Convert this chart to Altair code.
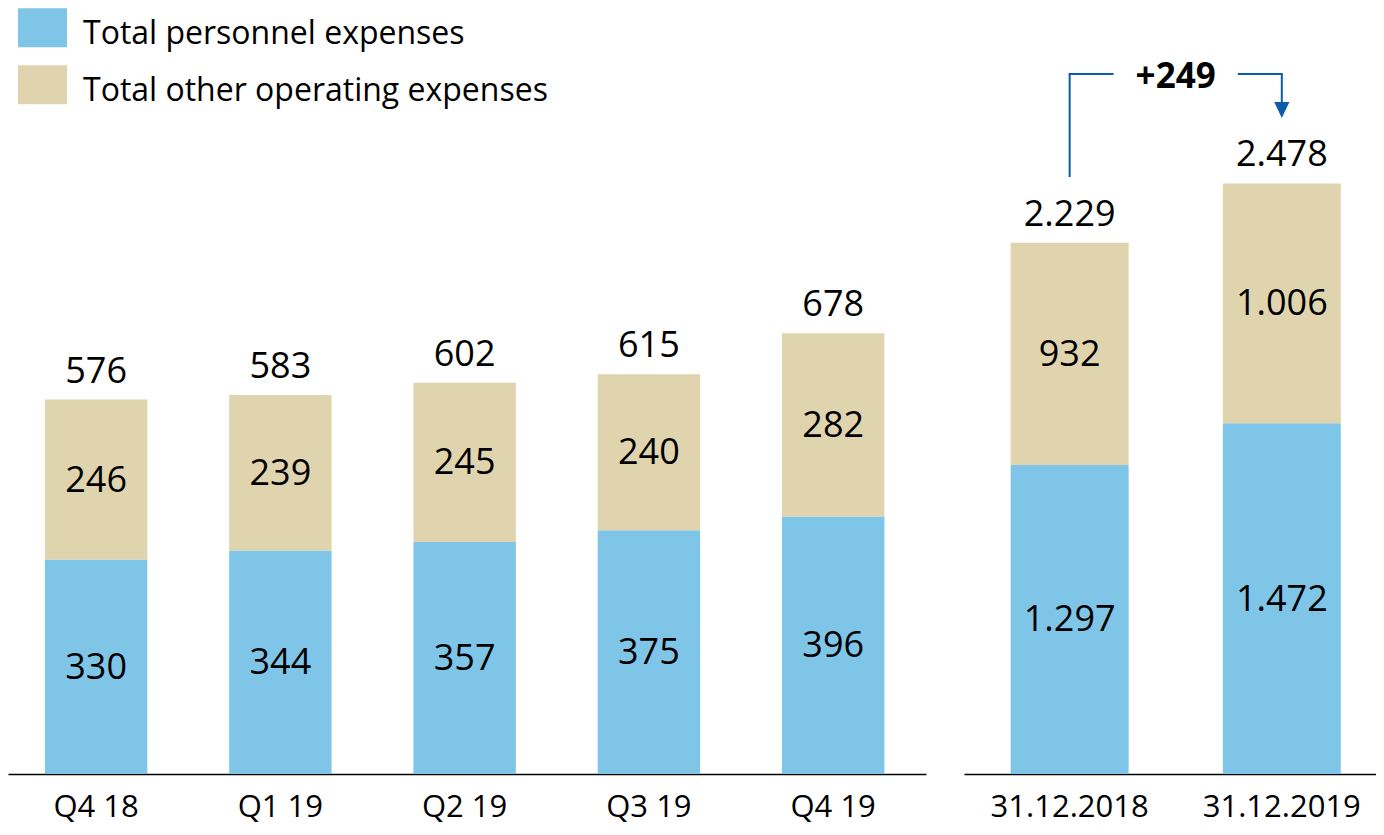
import altair as alt
import pandas as pd

# ---- data ----
quarters = ["Q4 18", "Q1 19", "Q2 19", "Q3 19", "Q4 19"]
q_personnel = [330, 344, 357, 375, 396]
q_other = [246, 239, 245, 240, 282]
q_total = [576, 583, 602, 615, 678]

years = ["31.12.2018", "31.12.2019"]
y_personnel = [1297, 1472]
y_other = [932, 1006]
y_total = [2229, 2478]

series = ["Total personnel expenses", "Total other operating expenses"]
colors = ["#7FC5E8", "#E0D4AF"]

delta_label = "+249"
# bracket levels in data units of the annual panel
bracket_low = 2505
bracket_top = 2937
arrow_end = 2820
arrow_head = 2786

FONT = "Open Sans"
H = 766


def fmt(v):
    return f"{v:,}".replace(",", ".")


def build(cats, pers, oth, tot):
    rows = []
    for c, p, o, t in zip(cats, pers, oth, tot):
        rows.append({"cat": c, "series": series[0], "y0": 0, "y1": p,
                     "mid": p / 2, "lab": fmt(p)})
        rows.append({"cat": c, "series": series[1], "y0": p, "y1": p + o,
                     "mid": p + o / 2, "lab": fmt(o)})
    seg = pd.DataFrame(rows)
    totals = pd.DataFrame({"cat": cats, "tot": tot, "lab": [fmt(t) for t in tot]})
    return seg, totals


color_scale = alt.Scale(domain=series, range=colors)


def panel(cats, pers, oth, tot, ymax, pad_outer, align, legend):
    seg, totals = build(cats, pers, oth, tot)
    xs = alt.Scale(domain=cats, paddingInner=0.444, paddingOuter=pad_outer, align=align)
    ys = alt.Scale(domain=[0, ymax], nice=False, zero=True)
    x = alt.X("cat:N", scale=xs, sort=cats, title=None,
              axis=alt.Axis(labelAngle=0, ticks=False, domain=True))
    bars = alt.Chart(seg).mark_bar().encode(
        x=x,
        y=alt.Y("y0:Q", scale=ys, axis=None),
        y2="y1:Q",
        color=alt.Color("series:N", scale=color_scale, legend=legend),
    )
    seg_text = alt.Chart(seg).mark_text(
        font=FONT, fontSize=36, color="#000000", baseline="middle", dy=1
    ).encode(x=x, y=alt.Y("mid:Q", scale=ys), text="lab:N")
    tot_text = alt.Chart(totals).mark_text(
        font=FONT, fontSize=36, color="#000000", baseline="alphabetic", dy=-17
    ).encode(x=x, y=alt.Y("tot:Q", scale=ys), text="lab:N")
    return bars, seg_text, tot_text, x, ys


legend = alt.Legend(
    title=None, orient="none", legendX=15, legendY=6, padding=0,
    symbolType="M-1.256,-1.3L1.256,-1.3L1.256,0.7L-1.256,0.7Z",
    symbolSize=1521, symbolStrokeWidth=0, symbolOpacity=1,
    labelFont=FONT, labelFontSize=32, labelColor="#000000",
    labelOffset=21, rowPadding=15, labelLimit=600,
)

lb, lst, ltt, lx, lys = panel(quarters, q_personnel, q_other, q_total,
                              H / 0.65, 0.213, 0.47, legend)
left = alt.layer(lb, lst, ltt).properties(width=918, height=H)

rb, rst, rtt, rx, rys = panel(years, y_personnel, y_other, y_total,
                              H / 0.2383, 0.193, 0.57, None)

LINE = "#0B5DAA"
br_v1 = pd.DataFrame({"cat": [years[0]], "a": [bracket_low], "b": [bracket_top]})
br_v2 = pd.DataFrame({"cat": [years[1]], "a": [bracket_top], "b": [arrow_end]})
br_h = pd.DataFrame({"cat": [years[0], years[1]], "y": [bracket_top, bracket_top],
                     "side": ["l", "r"]})

v1 = alt.Chart(br_v1).mark_rule(color=LINE, strokeWidth=2).encode(
    x=rx, y=alt.Y("a:Q", scale=rys), y2="b:Q")
v2 = alt.Chart(br_v2).mark_rule(color=LINE, strokeWidth=2).encode(
    x=rx, y=alt.Y("a:Q", scale=rys), y2="b:Q")
h1 = alt.Chart(br_h[br_h.side == "l"]).mark_rule(
    color=LINE, strokeWidth=2, x2Offset=44, xOffset=-1).encode(
    x=rx, x2=alt.X2("cat:N"), y=alt.Y("y:Q", scale=rys))
h2 = alt.Chart(br_h[br_h.side == "r"]).mark_rule(
    color=LINE, strokeWidth=2, xOffset=-44, x2Offset=1).encode(
    x=rx, x2=alt.X2("cat:N"), y=alt.Y("y:Q", scale=rys))
head = alt.Chart(pd.DataFrame({"cat": [years[1]], "y": [arrow_head]})).mark_point(
    shape="M-0.95,-1L0.95,-1L0,1Z", size=256, filled=True, color=LINE, opacity=1,
    strokeWidth=0).encode(x=rx, y=alt.Y("y:Q", scale=rys))
delta = alt.Chart(pd.DataFrame({"cat": [years[0]], "y": [bracket_top], "t": [delta_label]})).mark_text(
    font=FONT, fontSize=35, fontWeight="bold", color="#000000", baseline="middle",
    dx=106, dy=3).encode(x=rx, y=alt.Y("y:Q", scale=rys), text="t:N")

right = alt.layer(rb, rst, rtt, v1, v2, h1, h2, head, delta).properties(width=412, height=H)

chart = alt.hconcat(left, right, spacing=38).resolve_scale(
    y="independent", x="independent"
).properties(
    padding={"left": 0, "top": 0, "right": 0, "bottom": 2}
).configure_view(stroke=None).configure_axis(
    domainColor="#000000", domainWidth=1.5, labelFont=FONT, labelFontSize=31,
    labelColor="#000000", labelPadding=18,
)

chart.save("out.html", embed_options={"renderer": "svg", "actions": False})
